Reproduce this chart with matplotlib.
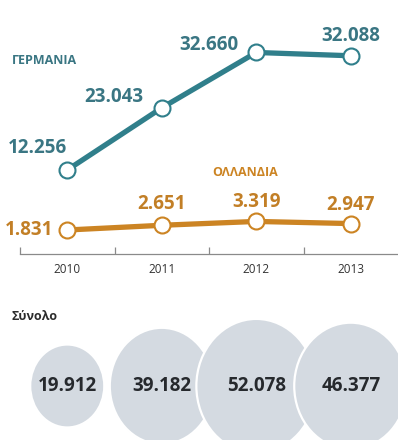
import numpy as np
import matplotlib
matplotlib.use("Agg")
import matplotlib.pyplot as plt
from matplotlib.patches import Ellipse

plt.rcParams["font.family"] = ["Open Sans", "DejaVu Sans"]

years = [2010, 2011, 2012, 2013]
germany = [12.256, 23.043, 32.660, 32.088]
netherlands = [1.831, 2.651, 3.319, 2.947]
totals = [19.912, 39.182, 52.078, 46.377]

TEAL = "#307f8b"
TEAL_TXT = "#3a7683"
ORANGE = "#cc8423"
ORANGE_TXT = "#c27f26"
BUBBLE = "#d4dae1"

W, H = 398, 440
fig = plt.figure(figsize=(W / 100, H / 100), dpi=100)
fig.patch.set_facecolor("white")


def px(x, y):
    # pixel position (from top-left) -> figure fraction
    return x / W, 1 - y / H


def fmt(v):
    return f"{v:.3f}"


# --- line chart ---
ax = fig.add_axes([20 / W, 1 - 253.5 / H, 378 / W, (253.5 - 39) / H])
ax.set_xlim(2009.5, 2013.5)
ax.set_ylim(-2.25, 35.0)

for vals, col in [(germany, TEAL), (netherlands, ORANGE)]:
    ax.plot(years, vals, color=col, lw=3.8, solid_capstyle="round", zorder=2)
    ax.plot(years, vals, ls="none", marker="o", ms=11.5, mfc="white",
            mec=col, mew=1.5, zorder=3)

g_offsets = [((0, 22), "right"), ((-18, 11), "right"),
             ((-18, 7), "right"), ((0, 20), "center")]
n_offsets = [((-14, 0), "right"), ((0, 21), "center"),
             ((0, 19), "center"), ((0, 19), "center")]

for vals, offs, col in [(germany, g_offsets, TEAL_TXT),
                        (netherlands, n_offsets, ORANGE_TXT)]:
    for x, v, (off, ha) in zip(years, vals, offs):
        ax.annotate(fmt(v), (x, v), xytext=off, textcoords="offset pixels",
                    ha=ha, va="center", fontsize=13.5, fontweight="bold",
                    color=col)

for s in ["top", "right", "left"]:
    ax.spines[s].set_visible(False)
ax.spines["bottom"].set_color("#8a8a8a")
ax.spines["bottom"].set_linewidth(0.9)
ax.set_yticks([])
ax.set_xticks(years)
ax.set_xticklabels([str(y) for y in years], fontsize=8.5, color="#333333")
ax.tick_params(axis="x", which="major", length=0, pad=7)
ax.set_xticks([y - 0.5 for y in years], minor=True)
ax.tick_params(axis="x", which="minor", direction="in", length=5,
               color="#8a8a8a", width=0.9)

fig.text(*px(12, 60), "ΓΕΡΜΑΝΙΑ", fontsize=9, fontweight="bold",
         color=TEAL_TXT, va="center", ha="left")
fig.text(*px(212, 173), "ΟΛΛΑΝΔΙΑ", fontsize=9, fontweight="bold",
         color=ORANGE, va="center", ha="left")

# --- totals as bubbles ---
bx = fig.add_axes([20 / W, 0, 378 / W, 140 / H])
bx.set_xlim(2009.5, 2013.5)
bx.set_ylim(140, 0)
bx.axis("off")

px_per_year = 378 / 4
for i, (x, v) in enumerate(zip(years, totals)):
    r = 8.3 * np.sqrt(v)
    bx.add_patch(Ellipse((x, 86), 2 * r / px_per_year, 2 * r * 1.12,
                         facecolor=BUBBLE, edgecolor="white", lw=1.6,
                         zorder=1 + i, clip_on=False))
    bx.text(x, 86, fmt(v), ha="center", va="center", fontsize=13.5,
            fontweight="bold", color="#26292d", zorder=10)

fig.text(*px(12, 316), "Σύνολο", fontsize=9, fontweight="bold",
         color="#2c2c2c", va="center", ha="left")

fig.savefig("out.png", dpi=100, facecolor="white")
